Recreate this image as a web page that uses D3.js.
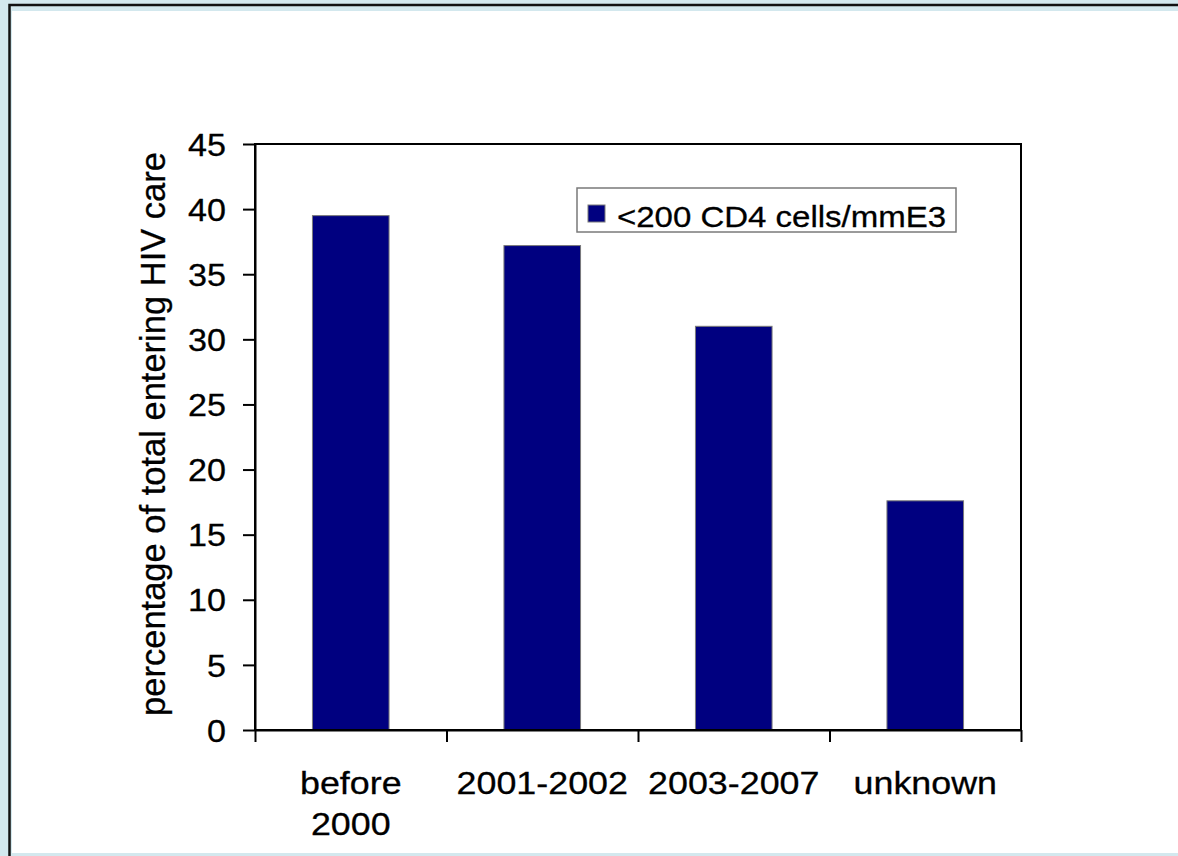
<!DOCTYPE html>
<html>
<head>
<meta charset="utf-8">
<script src="https://cdn.jsdelivr.net/npm/d3@7"></script>
<style>
  body { margin: 0; background: #d3e8ee; }
  svg { display: block; font-family: "Liberation Sans", Arial, sans-serif; }
  svg text { fill: black; stroke: black; stroke-width: 0.3px; }
</style>
</head>
<body>
<svg id="chart" width="1178" height="856"></svg>
<script>
// data
const categories = ["before 2000", "2001-2002", "2003-2007", "unknown"]
const categoryLines = [["before", "2000"], ["2001-2002"], ["2003-2007"], ["unknown"]]
const values = [39.5, 37.2, 31.0, 17.6]
const yTicks = [0, 5, 10, 15, 20, 25, 30, 35, 40, 45]
const seriesName = "<200 CD4 cells/mmE3"
const yTitle = "percentage of total entering HIV care"

const svg = d3.select('#chart')
const navy = '#000080'
const stretch = 'scale(1.1,1)'

// slide background + white panel
svg.append('rect').attr('width', 1178).attr('height', 856).attr('fill', '#d3e8ee')
svg.append('rect').attr('x', 12).attr('y', 11).attr('width', 1166).attr('height', 842).attr('fill', 'white')
svg.append('path').attr('d', 'M9.5,856 V5 H1178').attr('fill', 'none').attr('stroke', '#111').attr('stroke-width', 2.5)

const plot = {left: 255, right: 1021, top: 144, bottom: 730}

const x = d3.scaleBand()
    .domain(categories)
    .range([plot.left, plot.right])
    .paddingInner(0).paddingOuter(0)

const y = d3.scaleLinear()
    .domain([0, 45])
    .range([plot.bottom, plot.top])

const barW = x.bandwidth() * 0.4

// bars
svg.append('g')
    .selectAll('rect')
    .data(values)
    .join('rect')
        .attr('x', (d, i) => x(categories[i]) + (x.bandwidth() - barW) / 2)
        .attr('y', d => y(d))
        .attr('width', barW)
        .attr('height', d => y(0) - y(d))
        .attr('fill', navy)
        .attr('stroke', '#7a7a7a')
        .attr('stroke-width', 1)

// frame
svg.append('rect')
    .attr('x', plot.left).attr('y', plot.top)
    .attr('width', plot.right - plot.left).attr('height', plot.bottom - plot.top)
    .attr('fill', 'none').attr('stroke', 'black').attr('stroke-width', 2)

// y axis
const yAxis = svg.append('g')
    .attr('transform', `translate(${plot.left}, 0)`)
    .call(d3.axisLeft(y).tickValues(yTicks).tickSize(12).tickSizeOuter(0))
yAxis.select('.domain').attr('stroke', 'black').attr('stroke-width', 2)
yAxis.selectAll('.tick line').attr('stroke', 'black').attr('stroke-width', 2)
yAxis.selectAll('.tick text')
    .attr('x', null).attr('dy', '0.36em')
    .attr('transform', `translate(-29,0) ${stretch}`)
    .attr('font-size', 31)
    .attr('font-family', '"Liberation Sans", Arial, sans-serif')

// x axis ticks on band edges
const xEdges = d3.scaleLinear().domain([0, categories.length]).range([plot.left, plot.right])
const xAxis = svg.append('g')
    .attr('transform', `translate(0, ${plot.bottom})`)
    .call(d3.axisBottom(xEdges).tickValues(d3.range(categories.length + 1)).tickSize(12).tickSizeOuter(0).tickFormat(''))
xAxis.select('.domain').attr('stroke', 'black').attr('stroke-width', 2)
xAxis.selectAll('.tick line').attr('stroke', 'black').attr('stroke-width', 2)

// category labels
const labels = svg.append('g')
    .selectAll('text')
    .data(categoryLines)
    .join('text')
        .attr('text-anchor', 'middle')
        .attr('font-size', 32)
        .attr('transform', (d, i) => `translate(${x(categories[i]) + x.bandwidth() / 2}, 794) scale(1.12,1)`)
labels.selectAll('tspan')
    .data(d => d)
    .join('tspan')
        .attr('x', 0)
        .attr('y', (d, i) => i * 41)
        .text(d => d)

// y title
svg.append('text')
    .attr('transform', 'translate(165, 434) rotate(-90)')
    .attr('text-anchor', 'middle')
    .attr('font-size', 34.5)
    .text(yTitle)

// legend
const legend = svg.append('g')
legend.append('rect')
    .attr('x', 577).attr('y', 188).attr('width', 379).attr('height', 44)
    .attr('fill', 'white').attr('stroke', '#7a7a7a').attr('stroke-width', 1.5)
legend.append('rect')
    .attr('x', 588).attr('y', 205).attr('width', 17).attr('height', 17)
    .attr('fill', navy).attr('stroke', '#7a7a7a').attr('stroke-width', 1)
legend.append('text')
    .attr('transform', `translate(617, 227) ${stretch}`)
    .attr('font-size', 30)
    .text(seriesName)
</script>
</body>
</html>
